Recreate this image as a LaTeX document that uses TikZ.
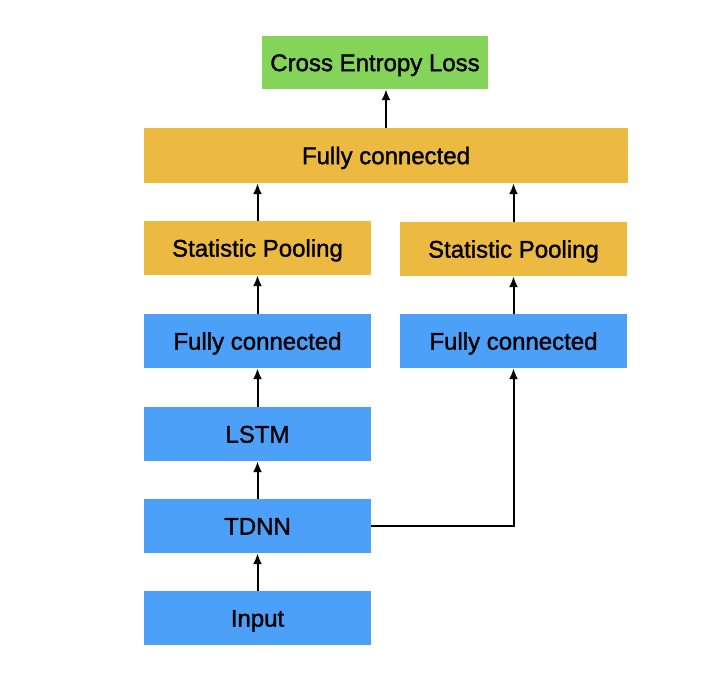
\documentclass[tikz,border=0pt]{standalone}
\usepackage{fontspec}
\setmainfont{Liberation Sans}
\newfontfamily\boxfont[FakeBold=1.4]{Liberation Sans}
\usetikzlibrary{positioning, arrows.meta}

\definecolor{lossgreen}{RGB}{132,212,90}
\definecolor{poolorange}{RGB}{237,186,65}
\definecolor{layerblue}{RGB}{76,160,248}

\begin{document}
\begin{tikzpicture}[
    x=1pt, y=-1pt,
    every node/.style={align=center,font=\boxfont\fontsize{24}{28}\selectfont,
        text height=17.2pt, text depth=0pt},
    layer/.style={fill=layerblue, minimum width=227pt, minimum height=54pt, inner sep=0pt},
    pool/.style={fill=poolorange, minimum width=227pt, minimum height=54pt, inner sep=0pt},
    >={Latex[length=11pt,width=9pt]}
]
    \useasboundingbox (0,0) rectangle (722,681);

    \def\leftX{257.5}
    \def\rightX{513.5}

    \node[fill=lossgreen, minimum width=226pt, minimum height=53pt, inner sep=0pt] (loss) at (375,62.5) {Cross Entropy Loss};
    \node[pool, minimum width=484pt, minimum height=55pt] (fctop) at (386,155.5) {Fully connected};

    \node[pool] (poolL) at (\leftX,248) {Statistic Pooling};
    \node[pool] (poolR) at (\rightX,249) {Statistic Pooling};

    \node[layer] (fcL) at (\leftX,341) {Fully connected};
    \node[layer] (fcR) at (\rightX,341) {Fully connected};

    \node[layer] (lstm) at (\leftX,434) {LSTM};
    \node[layer] (tdnn) at (\leftX,526) {TDNN};
    \node[layer] (input) at (\leftX,618) {Input};

    \begin{scope}[line width=2pt, ->]
        \draw (input) -- (tdnn);
        \draw (tdnn) -- (lstm);
        \draw (lstm) -- (fcL);
        \draw (fcL) -- (poolL);
        \draw (fcR) -- (poolR);
        \draw (poolL) -- (poolL |- fctop.south);
        \draw (poolR) -- (poolR |- fctop.south);
        \draw (fctop.north) -- (fctop.north |- loss.south);
        \draw (tdnn.east) -| (fcR.south);
    \end{scope}
\end{tikzpicture}
\end{document}
